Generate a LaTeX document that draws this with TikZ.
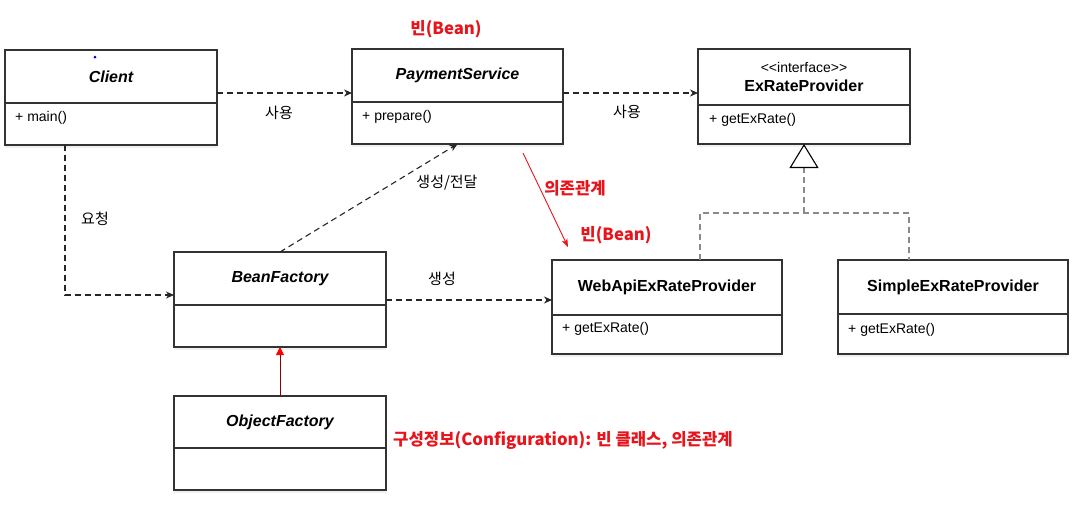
\documentclass[tikz,border=0pt]{standalone}
\usepackage{fontspec}
\setmainfont{Liberation Sans}
\newfontfamily\kr{Noto Sans CJK KR}
\usetikzlibrary{arrows.meta,shadows}
\definecolor{lineclr}{HTML}{333333}
\definecolor{labred}{HTML}{E8141B}
\definecolor{implgray}{HTML}{8A8A8A}

\begin{document}
\begin{tikzpicture}[
  x=1pt, y=-1pt,
  ttl/.style={draw=lineclr, line width=1.3pt, fill=white, anchor=north west,
              inner sep=0pt, outer sep=0pt, align=center,
              font=\fontsize{16}{19}\selectfont\bfseries\itshape},
  bdy/.style={draw=lineclr, line width=1.3pt, fill=white, anchor=north west,
              inner sep=0pt, outer sep=0pt,
              drop shadow={shadow xshift=0pt, shadow yshift=-3pt, opacity=0.12}},
  mth/.style={anchor=west, inner sep=0pt, font=\fontsize{14}{16}\selectfont},
  dep/.style={dash pattern=on 6pt off 4pt, line width=1.1pt, black!85,
              -{Stealth[length=8pt, width=7pt, inset=2.5pt]}},
  impl/.style={dash pattern=on 6pt off 4pt, line width=1.1pt, implgray},
  cfg/.style={line width=1pt, red!55!black, -{Triangle[red, length=8pt, width=8pt]}},
  dpl/.style={line width=0.9pt, labred, -{Stealth[length=8pt, width=6pt, inset=2pt]}},
  krlab/.style={font=\kr\fontsize{15}{18}\selectfont, inner sep=0pt},
  redlab/.style={font=\kr\bfseries\fontsize{16.7}{19}\selectfont, text=labred, inner sep=0pt}
]
  \useasboundingbox (0,0) rectangle (1091,507);

  %% --- Classes : title part and body part ---
  \node[ttl, minimum width=212pt, minimum height=53pt] (cl) at (5,50) {Client};
  \node[bdy, minimum width=212pt, minimum height=42pt] (clb) at (cl.south west) {};
  \node[ttl, minimum width=211pt, minimum height=53pt] (ps) at (352,49) {PaymentService};
  \node[bdy, minimum width=211pt, minimum height=42pt] (psb) at (ps.south west) {};
  \node[ttl, minimum width=212pt, minimum height=56pt, font=\fontsize{16}{19}\selectfont] (erp) at (698,49)
    {{\fontsize{14}{19}\selectfont <{}<interface>{}>}\\\textbf{ExRateProvider}};
  \node[bdy, minimum width=212pt, minimum height=39pt] (erpb) at (erp.south west) {};
  \node[ttl, minimum width=212pt, minimum height=53pt] (bf) at (174,252) {BeanFactory};
  \node[bdy, minimum width=212pt, minimum height=42pt] (bfb) at (bf.south west) {};
  \node[ttl, minimum width=212pt, minimum height=52pt] (of) at (174,396) {ObjectFactory};
  \node[bdy, minimum width=212pt, minimum height=42pt] (ofb) at (of.south west) {};
  \node[ttl, minimum width=230pt, minimum height=55pt, font=\fontsize{16}{19}\selectfont\bfseries] (wa) at (552,260) {WebApiExRateProvider};
  \node[bdy, minimum width=230pt, minimum height=39pt] (wab) at (wa.south west) {};
  \node[ttl, minimum width=230pt, minimum height=54pt, font=\fontsize{16}{19}\selectfont\bfseries] (sp) at (838,260) {SimpleExRateProvider};
  \node[bdy, minimum width=230pt, minimum height=40pt] (spb) at (sp.south west) {};

  %% --- Methods ---
  \node[mth] (clm) at ([xshift=10pt, yshift=-15pt]clb.north west) {+ main()};
  \node[mth] (psm) at ([xshift=10pt, yshift=-15pt]psb.north west) {+ prepare()};
  \node[mth] (erpm) at ([xshift=11pt, yshift=-15pt]erpb.north west) {+ getExRate()};
  \node[mth] (wam) at ([xshift=10pt, yshift=-14pt]wab.north west) {+ getExRate()};
  \node[mth] (spm) at ([xshift=10pt, yshift=-16pt]spb.north west) {+ getExRate()};

  \fill[blue!80!black] (95,57) circle (1.5pt);

  %% --- Relationships ---
  \draw[dep] ([yshift=10pt]cl.south east) -- ([yshift=9pt]ps.south west);
  \draw[dep] ([yshift=9pt]ps.south east) -- ([yshift=12pt]erp.south west);
  \draw[dep] ([xshift=60pt]clb.south west) |- ([yshift=10pt]bf.south west);
  \draw[dep] (bf.north) -- (psb.south);
  \draw[dep] ([yshift=5pt]bf.south east) -- ([yshift=15pt]wa.south west);
  \draw[cfg] (of.north) -- (bfb.south);
  \coordinate (dpa) at (523,153);
  \coordinate (dpb) at (568,247);
  \draw[dpl] (dpa) -- (dpb);
  \coordinate (jn) at (804,213);
  \draw[impl] ([xshift=148pt]wa.north west) |- (jn) -| ([xshift=71pt]sp.north west);
  \draw[impl, -{Triangle[open, black, length=24pt, width=29pt]}] (jn) -- (erpb.south);

  %% --- Labels ---
  \node[krlab] (use1) at (279,113) {사용};
  \node[krlab] (use2) at (627,112) {사용};
  \node[krlab] (req) at (95,219) {요청};
  \node[krlab] (mkpass) at (447,183) {생성/전달};
  \node[krlab] (mk) at (442,279) {생성};
  \node[redlab] (bean1) at (446,29) {빈(Bean)};
  \node[redlab] (bean2) at (616,235) {빈(Bean)};
  \node[redlab] (deplab) at (575,188) {의존관계};
  \node[redlab, anchor=west] (conf) at (393,440) {구성정보(Configuration): 빈 클래스, 의존관계};
\end{tikzpicture}
\end{document}
